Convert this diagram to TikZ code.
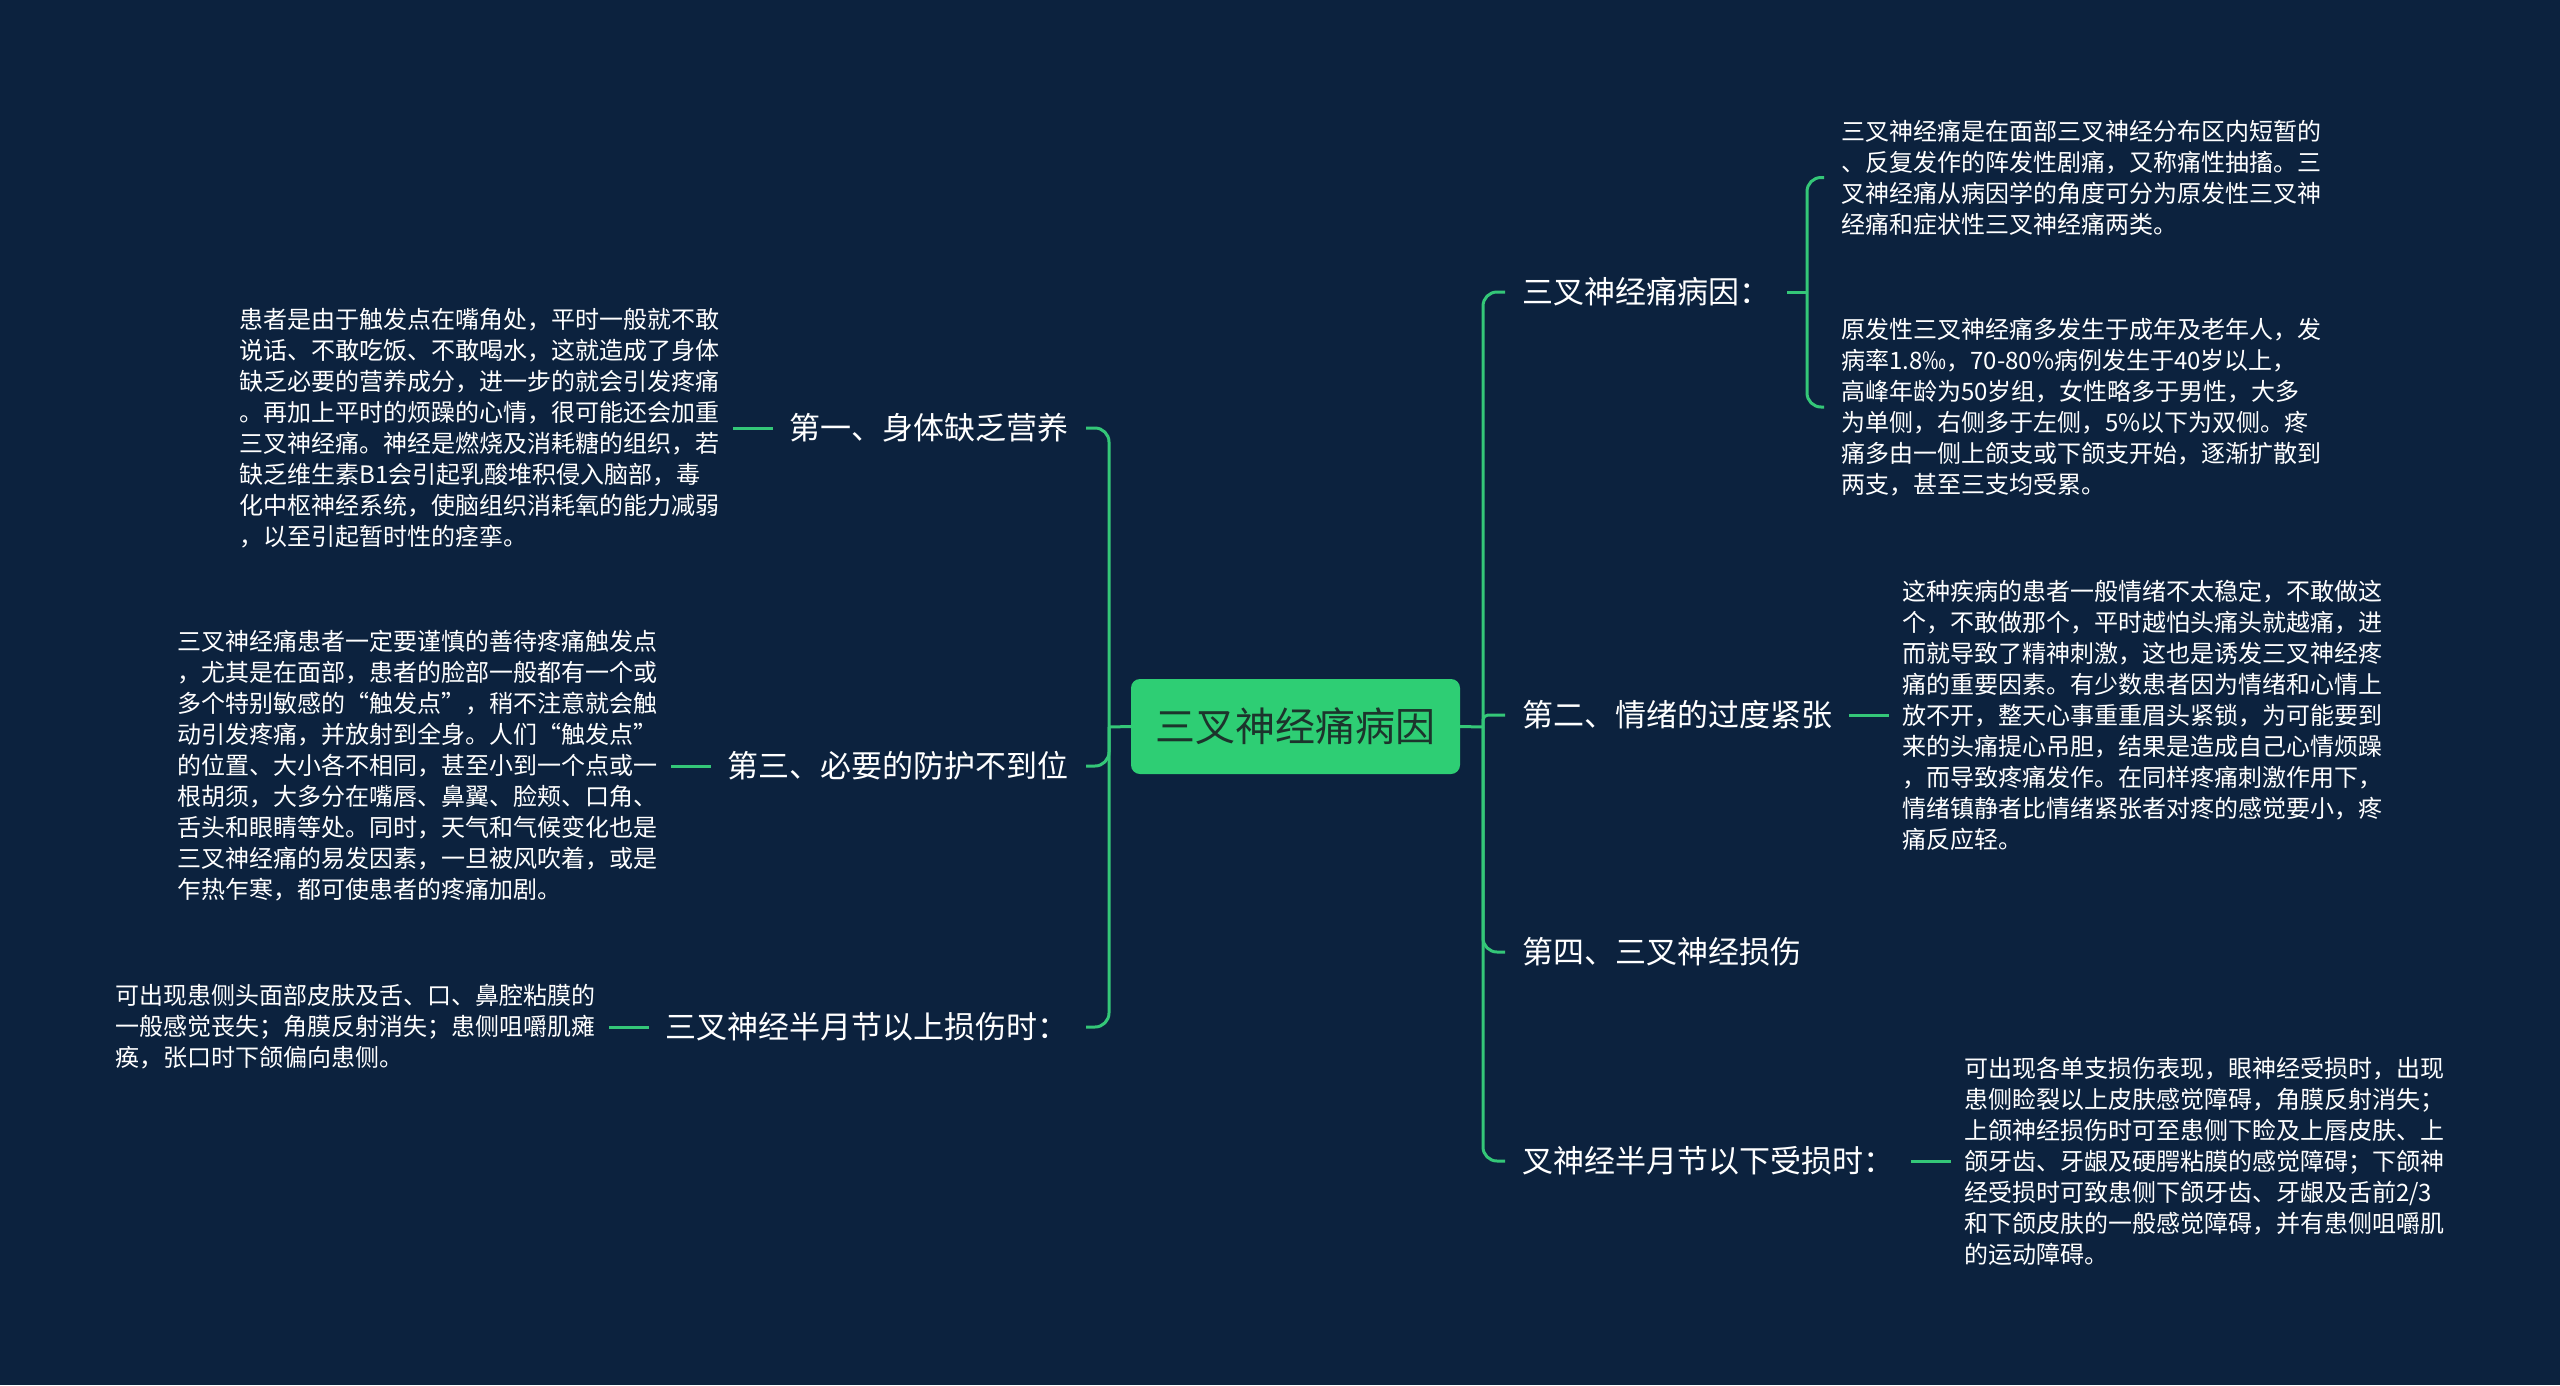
\documentclass[tikz,border=0pt]{standalone}
\usepackage{fontspec}
\setmainfont{Noto Sans CJK SC}
\definecolor{bg}{RGB}{12,34,62}
\definecolor{lnk}{RGB}{52,199,120}
\definecolor{rootc}{RGB}{46,206,116}
\definecolor{roott}{RGB}{28,52,44}
\tikzset{
  lbl/.style={font=\fontsize{31}{37}\selectfont, text=white, inner xsep=17pt, inner ysep=2pt},
  para/.style={font=\fontsize{24}{31}\selectfont, text=white, align=left, inner xsep=13pt, inner ysep=0pt},
  link/.style={draw=lnk, line width=3pt},
  root/.style={fill=rootc, rounded corners=9pt, minimum width=329pt, minimum height=95pt,
    inner sep=0pt, font=\fontsize{40}{48}\selectfont, text=roott}
}
\begin{document}
\begin{tikzpicture}[x=1pt,y=-1pt]
\fill[bg] (0,0) rectangle (2560,1385);
\useasboundingbox (0,0) rectangle (2560,1385);

\node[root] (root) at (1295.5,726.5) {三叉神经痛病因};
\coordinate (hubL) at (1109,727);
\coordinate (hubR) at (1483,727);

% left labels
\node[lbl, anchor=east] (L1) at (1086,428) {第一、身体缺乏营养};
\node[lbl, anchor=east] (L3) at (1086,766) {第三、必要的防护不到位};
\node[lbl, anchor=east] (L5) at (1086,1027) {三叉神经半月节以上损伤时：};

% right labels
\node[lbl, anchor=west] (R1) at (1505,292) {三叉神经痛病因：};
\node[lbl, anchor=west] (R2) at (1505,715) {第二、情绪的过度紧张};
\node[lbl, anchor=west] (R4) at (1505,952) {第四、三叉神经损伤};
\node[lbl, anchor=west] (R6) at (1505,1161) {叉神经半月节以下受损时：};

% left paragraphs
\node[para, anchor=east] (T1) at (733,428) {患者是由于触发点在嘴角处，平时一般就不敢\\
说话、不敢吃饭、不敢喝水，这就造成了身体\\
缺乏必要的营养成分，进一步的就会引发疼痛\\
。再加上平时的烦躁的心情，很可能还会加重\\
三叉神经痛。神经是燃烧及消耗糖的组织，若\\
缺乏维生素B1会引起乳酸堆积侵入脑部，毒\\
化中枢神经系统，使脑组织消耗氧的能力减弱\\
，以至引起暂时性的痉挛。};

\node[para, anchor=east] (T3) at (671,766) {三叉神经痛患者一定要谨慎的善待疼痛触发点\\
，尤其是在面部，患者的脸部一般都有一个或\\
多个特别敏感的“触发点”，稍不注意就会触\\
动引发疼痛，并放射到全身。人们“触发点”\\
的位置、大小各不相同，甚至小到一个点或一\\
根胡须，大多分在嘴唇、鼻翼、脸颊、口角、\\
舌头和眼睛等处。同时，天气和气候变化也是\\
三叉神经痛的易发因素，一旦被风吹着，或是\\
乍热乍寒，都可使患者的疼痛加剧。};

\node[para, anchor=east] (T5) at (609,1027) {可出现患侧头面部皮肤及舌、口、鼻腔粘膜的\\
一般感觉丧失；角膜反射消失；患侧咀嚼肌瘫\\
痪，张口时下颌偏向患侧。};

% right paragraphs
\coordinate (b1) at (1807,292);
\node[para, anchor=west, inner xsep=17pt] (R1a) at (1824,177.5) {三叉神经痛是在面部三叉神经分布区内短暂的\\
、反复发作的阵发性剧痛，又称痛性抽搐。三\\
叉神经痛从病因学的角度可分为原发性三叉神\\
经痛和症状性三叉神经痛两类。};
\node[para, anchor=west, inner xsep=17pt] (R1b) at (1824,407) {原发性三叉神经痛多发生于成年及老年人，发\\
病率1.8‰，70-80\%病例发生于40岁以上，\\
高峰年龄为50岁组，女性略多于男性，大多\\
为单侧，右侧多于左侧，5\%以下为双侧。疼\\
痛多由一侧上颌支或下颌支开始，逐渐扩散到\\
两支，甚至三支均受累。};

\node[para, anchor=west] (T2) at (1889,715) {这种疾病的患者一般情绪不太稳定，不敢做这\\
个，不敢做那个，平时越怕头痛头就越痛，进\\
而就导致了精神刺激，这也是诱发三叉神经疼\\
痛的重要因素。有少数患者因为情绪和心情上\\
放不开，整天心事重重眉头紧锁，为可能要到\\
来的头痛提心吊胆，结果是造成自己心情烦躁\\
，而导致疼痛发作。在同样疼痛刺激作用下，\\
情绪镇静者比情绪紧张者对疼的感觉要小，疼\\
痛反应轻。};

\node[para, anchor=west] (T6) at (1951,1161) {可出现各单支损伤表现，眼神经受损时，出现\\
患侧睑裂以上皮肤感觉障碍，角膜反射消失；\\
上颌神经损伤时可至患侧下睑及上唇皮肤、上\\
颌牙齿、牙龈及硬腭粘膜的感觉障碍；下颌神\\
经受损时可致患侧下颌牙齿、牙龈及舌前2/3\\
和下颌皮肤的一般感觉障碍，并有患侧咀嚼肌\\
的运动障碍。};

% connectors
\draw[link] (root.west) -- (hubL);
\draw[link] (root.east) -- (hubR);
\draw[link, rounded corners=14pt] (hubL) |- (L1.east);
\draw[link, rounded corners=14pt] (hubL) |- (L3.east);
\draw[link, rounded corners=14pt] (hubL) |- (L5.east);
\draw[link, rounded corners=14pt] (hubR) |- (R1.west);
\draw[link, rounded corners=5pt] (hubR) |- (R2.west);
\draw[link, rounded corners=14pt] (hubR) |- (R4.west);
\draw[link, rounded corners=14pt] (hubR) |- (R6.west);
\draw[link] (L1.west) -- (T1.east);
\draw[link] (L3.west) -- (T3.east);
\draw[link] (L5.west) -- (T5.east);
\draw[link] (R1.east) -- (b1);
\draw[link, rounded corners=14pt] (b1) |- (R1a.west);
\draw[link, rounded corners=14pt] (b1) |- (R1b.west);
\draw[link] (R2.east) -- (T2.west);
\draw[link] (R6.east) -- (T6.west);
\end{tikzpicture}
\end{document}
